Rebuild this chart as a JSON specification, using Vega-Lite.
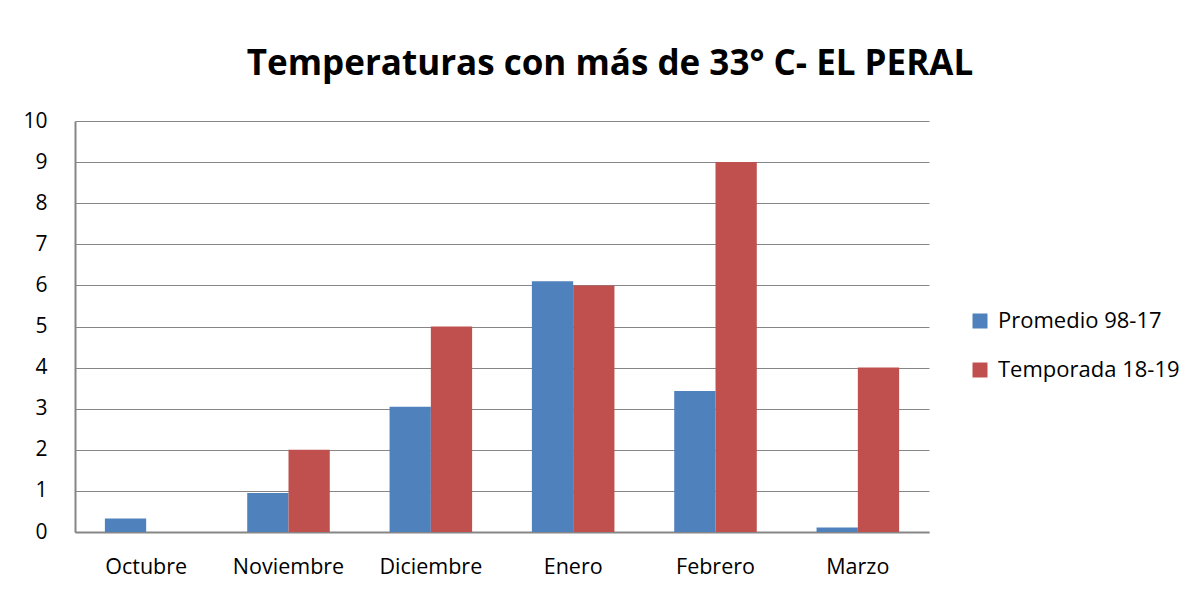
{
  "$schema": "https://vega.github.io/schema/vega-lite/v6.json",
  "width": 854,
  "height": 411,
  "autosize": {"type": "none"},
  "padding": {"left": 75, "top": 121, "right": 273, "bottom": 58},
  "background": "white",
  "title": {
    "text": "Temperaturas con más de 33° C- EL PERAL",
    "font": "Open Sans",
    "fontSize": 35,
    "fontWeight": "bold",
    "color": "#000000",
    "anchor": "middle",
    "dx": 108,
    "offset": 28
  },
  "data": {
    "values": [
      {"mes": "Octubre", "serie": "Promedio 98-17", "valor": 0.33},
      {"mes": "Octubre", "serie": "Temporada 18-19", "valor": 0},
      {"mes": "Noviembre", "serie": "Promedio 98-17", "valor": 0.95},
      {"mes": "Noviembre", "serie": "Temporada 18-19", "valor": 2},
      {"mes": "Diciembre", "serie": "Promedio 98-17", "valor": 3.05},
      {"mes": "Diciembre", "serie": "Temporada 18-19", "valor": 5},
      {"mes": "Enero", "serie": "Promedio 98-17", "valor": 6.1},
      {"mes": "Enero", "serie": "Temporada 18-19", "valor": 6},
      {"mes": "Febrero", "serie": "Promedio 98-17", "valor": 3.43},
      {"mes": "Febrero", "serie": "Temporada 18-19", "valor": 9},
      {"mes": "Marzo", "serie": "Promedio 98-17", "valor": 0.11},
      {"mes": "Marzo", "serie": "Temporada 18-19", "valor": 4}
    ]
  },
  "mark": {"type": "bar"},
  "encoding": {
    "x": {
      "field": "mes",
      "type": "nominal",
      "sort": ["Octubre", "Noviembre", "Diciembre", "Enero", "Febrero", "Marzo"],
      "scale": {"paddingInner": 0.42, "paddingOuter": 0.21},
      "axis": {
        "title": null,
        "labelAngle": 0,
        "ticks": false,
        "labelPadding": 24,
        "labelFont": "Open Sans",
        "labelFontSize": 21.5,
        "labelColor": "#000000",
        "labelOverlap": false,
        "domainColor": "#868686",
        "domainWidth": 2
      }
    },
    "xOffset": {
      "field": "serie",
      "type": "nominal",
      "sort": ["Promedio 98-17", "Temporada 18-19"],
      "scale": {"paddingInner": 0, "paddingOuter": 0}
    },
    "y": {
      "field": "valor",
      "type": "quantitative",
      "scale": {"domain": [0, 10]},
      "axis": {
        "title": null,
        "values": [0, 1, 2, 3, 4, 5, 6, 7, 8, 9, 10],
        "ticks": false,
        "labelPadding": 28,
        "labelFont": "Open Sans",
        "labelFontSize": 21,
        "labelColor": "#000000",
        "labelOverlap": false,
        "labelFlush": false,
        "grid": true,
        "gridColor": "#868686",
        "gridWidth": 1,
        "domainColor": "#868686",
        "domainWidth": 2
      }
    },
    "color": {
      "field": "serie",
      "type": "nominal",
      "scale": {
        "domain": ["Promedio 98-17", "Temporada 18-19"],
        "range": ["#4F81BD", "#C0504D"]
      },
      "legend": {
        "title": null,
        "orient": "none",
        "legendX": 894,
        "legendY": 189,
        "symbolType": "square",
        "symbolSize": 225,
        "symbolStrokeWidth": 0,
        "rowPadding": 27,
        "labelFont": "Open Sans",
        "labelFontSize": 22,
        "labelLimit": 400,
        "labelColor": "#000000",
        "labelOffset": 7
      }
    }
  },
  "config": {
    "view": {"stroke": "#868686", "strokeWidth": 0}
  }
}
